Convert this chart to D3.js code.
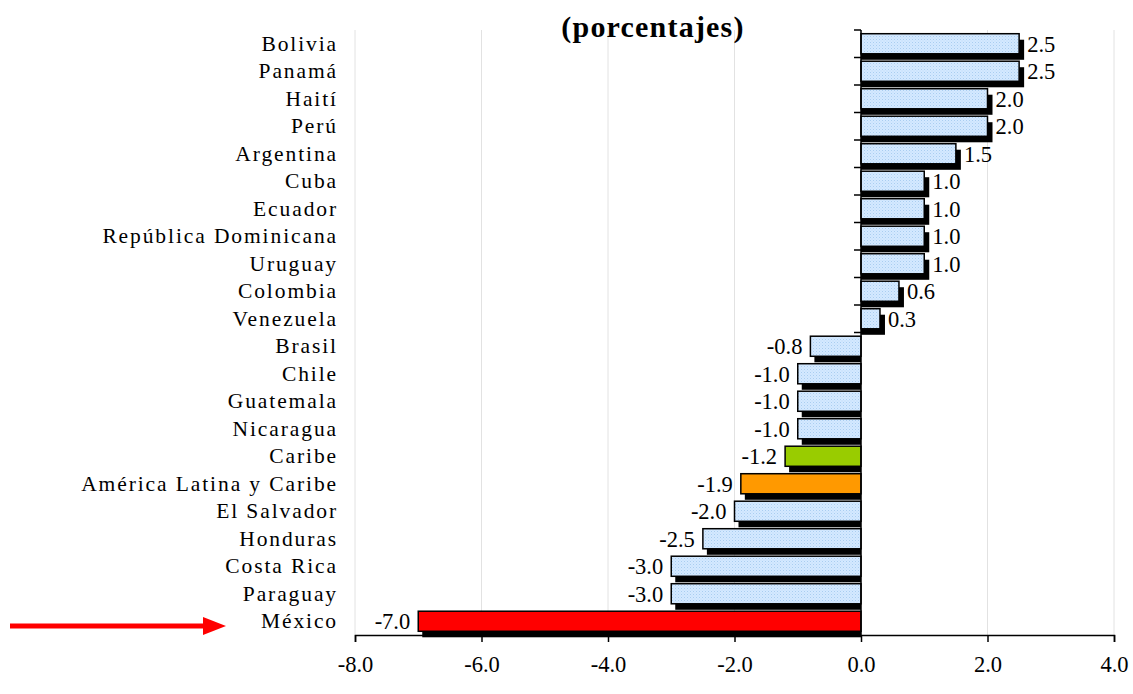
<!DOCTYPE html>
<html><head><meta charset="utf-8">
<script src="https://cdn.jsdelivr.net/npm/d3@7"></script>
<style>body{margin:0;background:#fff}svg{display:block}</style>
</head><body>
<svg id="c" width="1133" height="694"></svg>
<script>
const categories = ["Bolivia","Panamá","Haití","Perú","Argentina","Cuba","Ecuador","República Dominicana","Uruguay","Colombia","Venezuela","Brasil","Chile","Guatemala","Nicaragua","Caribe","América Latina y Caribe","El Salvador","Honduras","Costa Rica","Paraguay","México"];
const values = [2.5,2.5,2.0,2.0,1.5,1.0,1.0,1.0,1.0,0.6,0.3,-0.8,-1.0,-1.0,-1.0,-1.2,-1.9,-2.0,-2.5,-3.0,-3.0,-7.0];
const highlight = {"Caribe":"#99cc00","América Latina y Caribe":"#ff9900","México":"#ff0000"};
const xTicks = [-8,-6,-4,-2,0,2,4];
const title = "(porcentajes)";

const svg = d3.select("#c");
const font = "Liberation Serif, serif";
const fmt = v => d3.format(".1f")(v).replace("\u2212","-");
const x = d3.scaleLinear().domain([-8,4]).range([355,1114]);
const y = d3.scaleBand().domain(categories).range([30,635]).paddingInner(0.27).paddingOuter(0.135);

const defs = svg.append("defs");
const pat = defs.append("pattern").attr("id","dots").attr("width",3).attr("height",3).attr("patternUnits","userSpaceOnUse");
pat.append("rect").attr("width",3).attr("height",3).attr("fill","#d4e9ff");
pat.append("rect").attr("width",1).attr("height",1).attr("fill","#a9cdf0");
pat.append("rect").attr("x",1.5).attr("y",1.5).attr("width",1).attr("height",1).attr("fill","#bcdaf7");

svg.append("g").selectAll("line").data(xTicks).join("line")
  .attr("x1",d=>x(d)).attr("x2",d=>x(d)).attr("y1",30).attr("y2",635)
  .attr("stroke","#e2e2e2").attr("stroke-width",1);

svg.append("text").attr("x",653).attr("y",37).attr("text-anchor","middle")
  .attr("font-family",font).attr("font-weight","bold").attr("font-size",30)
  .attr("letter-spacing",1.2).text(title);

const data = categories.map((c,i)=>({c, v:values[i]}));
const dx=5, dy=6;
const g = svg.append("g");
// shadow: offset down, extended away from the axis, but clipped at the axis
g.selectAll("rect.sh").data(data).join("rect").attr("class","sh")
  .attr("x",d=>d.v>=0 ? x(0) : x(d.v)+4)
  .attr("y",d=>y(d.c)+dy)
  .attr("width",d=>d.v>=0 ? x(d.v)-x(0)+dx : x(0)-x(d.v)-4)
  .attr("height",y.bandwidth())
  .attr("fill","#000");
g.selectAll("rect.bar").data(data).join("rect").attr("class","bar")
  .attr("x",d=>Math.min(x(0),x(d.v))).attr("y",d=>y(d.c))
  .attr("width",d=>Math.abs(x(d.v)-x(0))).attr("height",y.bandwidth())
  .attr("fill",d=>highlight[d.c]||"url(#dots)").attr("stroke","#000").attr("stroke-width",1.5);

g.selectAll("text.val").data(data).join("text").attr("class","val")
  .attr("x",d=>d.v>=0 ? x(d.v)+dx+3 : x(d.v)-8)
  .attr("y",d=>y(d.c)+y.bandwidth()/2+8)
  .attr("text-anchor",d=>d.v>=0?"start":"end")
  .attr("font-family",font).attr("font-size",22.5)
  .text(d=>fmt(d.v));

svg.append("g").selectAll("text").data(categories).join("text")
  .attr("x",338).attr("y",d=>y(d)+y.bandwidth()/2+7)
  .attr("text-anchor","end").attr("font-family",font).attr("font-size",21.5)
  .attr("letter-spacing",1.9).text(d=>d);

const ya = svg.append("g").attr("stroke","#000").attr("stroke-width",1.5);
ya.append("line").attr("x1",x(0)).attr("x2",x(0)).attr("y1",30).attr("y2",635);
const bounds = categories.map(c=>y(c)-y.step()*y.paddingInner()/2);
ya.selectAll("line.t").data(bounds).join("line").attr("class","t")
  .attr("x1",x(0)-7).attr("x2",x(0)).attr("y1",d=>d).attr("y2",d=>d);

const xa = svg.append("g").attr("transform","translate(0,635)")
  .call(d3.axisBottom(x).tickValues(xTicks).tickSize(7).tickPadding(14).tickFormat(fmt));
xa.select(".domain").attr("stroke","#000").attr("stroke-width",1.5);
xa.selectAll(".tick line").attr("stroke","#000").attr("stroke-width",1.5);
xa.selectAll("text").attr("font-family",font).attr("font-size",22.5).attr("fill","#000");

const ar = svg.append("g").attr("fill","#ff0000");
ar.append("rect").attr("x",10).attr("y",623.5).attr("width",200).attr("height",5);
ar.append("path").attr("d","M203,617 L226,626 L203,635 Z");
</script>
</body></html>
